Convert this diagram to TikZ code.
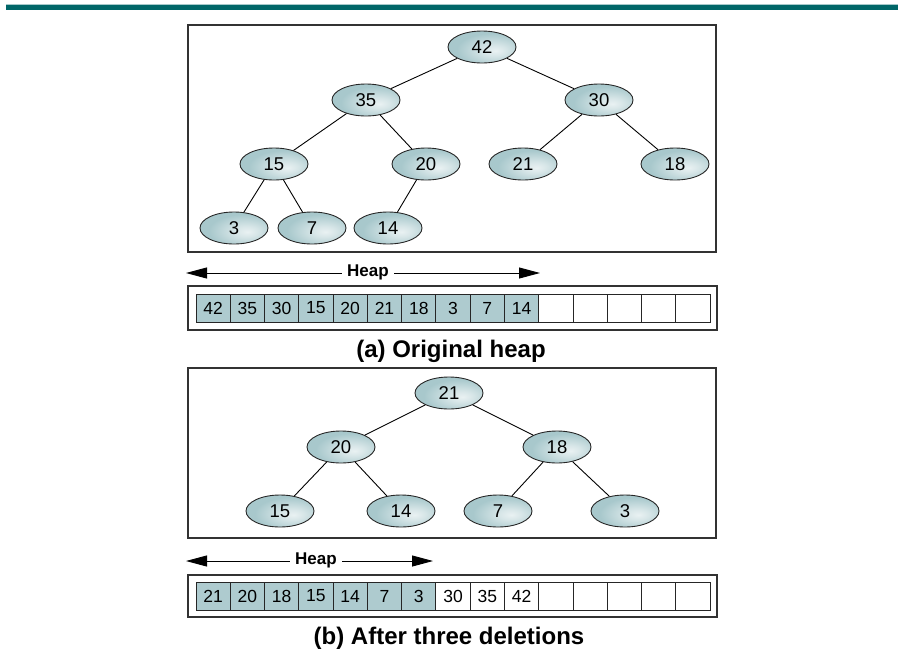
\documentclass[tikz,border=0pt]{standalone}
\usepackage{fontspec}
\setmainfont{Liberation Sans}
\usetikzlibrary{shapes.geometric,arrows.meta}
\definecolor{barteal}{RGB}{0,102,104}
\definecolor{hcol}{RGB}{168,200,204}
\definecolor{cellcol}{RGB}{174,203,207}
\definecolor{boxline}{RGB}{50,50,50}
\pgfdeclareradialshading{nodeshade}{\pgfpoint{10bp}{-6bp}}{color(0bp)=(white!75!hcol); color(8bp)=(white!55!hcol); color(26bp)=(hcol); color(100bp)=(hcol)}
\tikzset{
  hnode/.style={ellipse, draw=black!85, line width=0.9pt, shading=nodeshade, minimum width=68pt, minimum height=32pt, inner sep=0pt, font=\fontsize{18.5}{21}\selectfont},
  edge/.style={line width=0.9pt, black},
  frame/.style={draw=boxline, line width=1.4pt},
  outerbox/.style={draw=boxline, line width=1.1pt},
  cellbox/.style={rectangle, draw=black!85, line width=0.9pt, minimum width=34.27pt, minimum height=28pt, inner sep=0pt, font=\fontsize{17.5}{20}\selectfont},
  fullcell/.style={cellbox, fill=cellcol},
  emptycell/.style={cellbox, fill=white},
  heaparrow/.style={{Triangle[length=21pt,width=11pt]}-{Triangle[length=21pt,width=11pt]}, line width=0.9pt},
  heaplabel/.style={fill=white, inner xsep=5pt, inner ysep=1pt, font=\fontsize{17}{20}\selectfont\bfseries},
  caption/.style={anchor=base, font=\fontsize{24}{28}\selectfont\bfseries}
}
\begin{document}
\begin{tikzpicture}[x=1pt,y=-1pt]
\useasboundingbox (0,0) rectangle (898,649);
% top bar
\fill[barteal] (6,4) rectangle (898,10);
\draw[barteal!35, line width=0.6pt] (6,4.3) -- (898,4.3);

% ---------- (a) ----------
\draw[frame] (188,25) rectangle (716,252);
\node[hnode] (a42) at (482,47) {42};
\node[hnode] (a35) at (366,100) {35};
\node[hnode] (a30) at (599,100) {30};
\node[hnode] (a15) at (274,164) {15};
\node[hnode] (a20) at (426,164) {20};
\node[hnode] (a21) at (523,164) {21};
\node[hnode] (a18) at (675,164) {18};
\node[hnode] (a3) at (234,228) {3};
\node[hnode] (a7) at (312,228) {7};
\node[hnode] (a14) at (388,228) {14};
\draw[edge] (a42) -- (a35);
\draw[edge] (a42) -- (a30);
\draw[edge] (a35) -- (a15);
\draw[edge] (a35) -- (a20);
\draw[edge] (a30) -- (a21);
\draw[edge] (a30) -- (a18);
\draw[edge] (a15) -- (a3);
\draw[edge] (a15) -- (a7);
\draw[edge] (a20) -- (a14);

\coordinate (ha1) at (186,273);
\coordinate (ha2) at (540,273);
\draw[heaparrow] (ha1) -- (ha2);
\node[heaplabel] (hla) at (368,272) {Heap};

\draw[outerbox] (188,286) rectangle (717,330);
\foreach \v [count=\i from 0] in {42,35,30,15,20,21,18,3,7,14}
  \node[fullcell] (ca\i) at ({196+34.27*(\i+0.5)},308) {\v};
\foreach \i in {10,...,14}
  \node[emptycell] (ca\i) at ({196+34.27*(\i+0.5)},308) {};
\node[caption] (capa) at (451,357) {(a) Original heap};

% ---------- (b) ----------
\draw[frame] (188,368) rectangle (716,538);
\node[hnode] (b21) at (449,393) {21};
\node[hnode] (b20) at (341,447) {20};
\node[hnode] (b18) at (557,447) {18};
\node[hnode] (b15) at (280,511) {15};
\node[hnode] (b14) at (401,511) {14};
\node[hnode] (b7) at (498,511) {7};
\node[hnode] (b3) at (625,511) {3};
\draw[edge] (b21) -- (b20);
\draw[edge] (b21) -- (b18);
\draw[edge] (b20) -- (b15);
\draw[edge] (b20) -- (b14);
\draw[edge] (b18) -- (b7);
\draw[edge] (b18) -- (b3);

\coordinate (hb1) at (186,561);
\coordinate (hb2) at (433,561);
\draw[heaparrow] (hb1) -- (hb2);
\node[heaplabel] (hlb) at (316,560) {Heap};

\draw[outerbox] (188,575) rectangle (717,617);
\foreach \v [count=\i from 0] in {21,20,18,15,14,7,3}
  \node[fullcell] (cb\i) at ({196+34.27*(\i+0.5)},596) {\v};
\foreach \v [count=\i from 7] in {30,35,42}
  \node[emptycell] (cb\i) at ({196+34.27*(\i+0.5)},596) {\v};
\foreach \i in {10,...,14}
  \node[emptycell] (cb\i) at ({196+34.27*(\i+0.5)},596) {};
\node[caption] (capb) at (449,644) {(b) After three deletions};
\end{tikzpicture}
\end{document}
